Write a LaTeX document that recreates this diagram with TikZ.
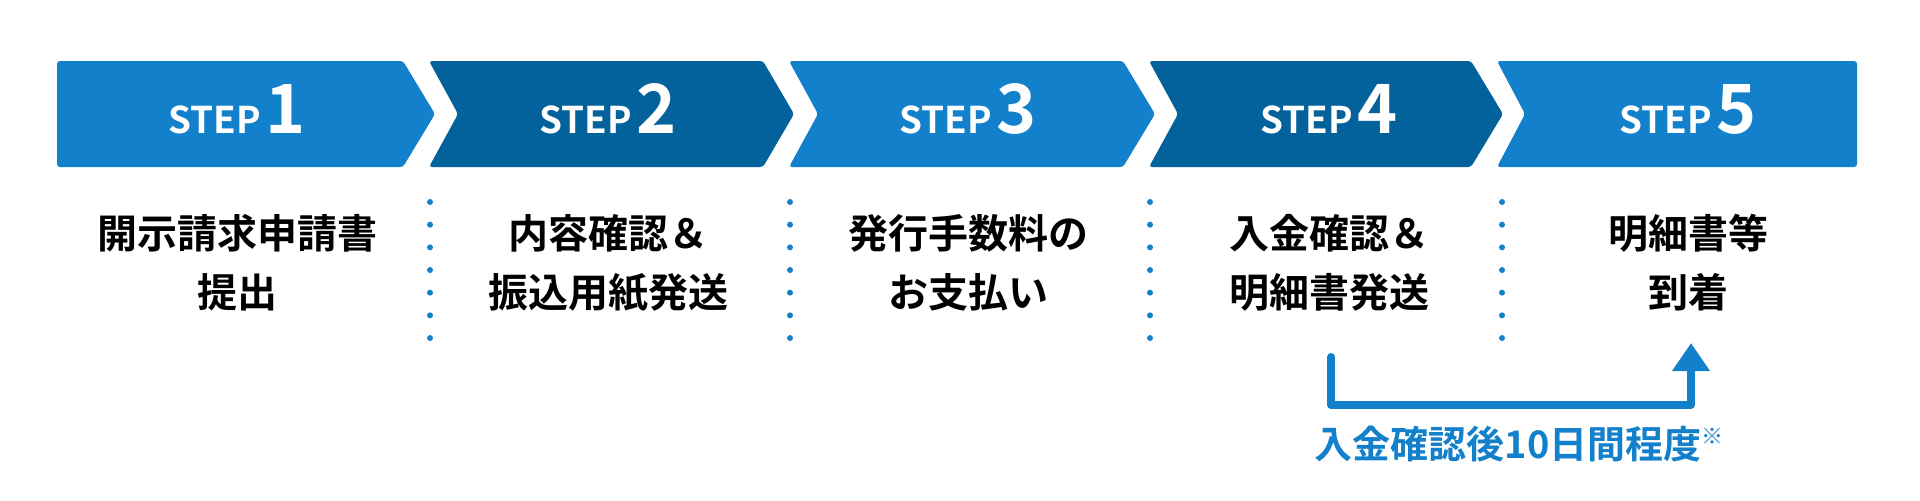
\documentclass[tikz,border=0pt]{standalone}
\usepackage{fontspec}
\setmainfont{Noto Sans CJK JP}[BoldFont={Noto Sans CJK JP Bold}]
\usetikzlibrary{arrows.meta}
\definecolor{stepblue}{HTML}{1380CB}
\definecolor{stepdark}{HTML}{03629B}
\newcommand{\steplabel}[1]{{\fontsize{18.4}{18.4}\selectfont STEP}\hspace{2.5pt}{\fontsize{34}{34}\selectfont #1}}
\tikzset{
pad/.style={
  rounded corners=1.5pt
  },
steptext/.style={
  anchor=base,
  inner sep=0pt,
  text=white,
  font=\bfseries
  },
desc/.style={
  inner sep=0pt,
  align=center,
  font=\bfseries\fontsize{20}{29.5}\selectfont
  },
lead/.style={
  draw=stepblue,
  line width=4pt,
  line cap=round,
  line join=round,
  -{Triangle[width=18pt,length=14pt]}
  },
note/.style={
  anchor=base,
  inner sep=0pt,
  text=stepblue,
  font=\bfseries\fontsize{19}{19}\selectfont
  }
}
\begin{document}
\begin{tikzpicture}[x=0.5pt,y=-0.5pt]
    \useasboundingbox (0,0) rectangle (1920,500);
    % arrow bands
    \fill[pad,stepblue] (57,61) -- (403,61) -- (435,114) -- (403,167) -- (57,167) -- cycle;
    \fill[pad,stepdark] (429,61) -- (763,61) -- (794,114) -- (763,167) -- (429,167) -- (458,114) -- cycle;
    \fill[pad,stepblue] (789,61) -- (1123,61) -- (1155,114) -- (1123,167) -- (789,167) -- (818,114) -- cycle;
    \fill[pad,stepdark] (1149,61) -- (1471,61) -- (1503,114) -- (1471,167) -- (1149,167) -- (1178,114) -- cycle;
    \fill[pad,stepblue] (1497,61) -- (1857,61) -- (1857,167) -- (1497,167) -- (1525,114) -- cycle;
    \node[steptext] (s1) at (237,133) {\steplabel{1}};
    \node[steptext] (s2) at (608,133) {\steplabel{2}};
    \node[steptext] (s3) at (968,133) {\steplabel{3}};
    \node[steptext] (s4) at (1329,133) {\steplabel{4}};
    \node[steptext] (s5) at (1688,133) {\steplabel{5}};
    % dotted separators
    \foreach \x in {430,790,1150,1502}
      \foreach \k in {0,...,6}
        \fill[stepblue] (\x,202+22.67*\k) circle (3);
    \node[desc] (d1) at (237,263) {開示請求申請書\\提出};
    \node[desc] (d2) at (608,263) {内容確認＆\\振込用紙発送};
    \node[desc] (d3) at (968,263) {発行手数料の\\お支払い};
    \node[desc] (d4) at (1329,263) {入金確認＆\\明細書発送};
    \node[desc] (d5) at (1688,263) {明細書等\\到着};
    \coordinate (from) at (1331,357);
    \coordinate (bend) at (1331,405);
    \coordinate (to) at (1691,343);
    \draw[lead] (from) -- (bend) -| (to);
    \node[note] (lag) at (1519,458) {入金確認後10日間程度\raisebox{7pt}{\mdseries\fontsize{11}{11}\selectfont ※}};
\end{tikzpicture}
\end{document}
